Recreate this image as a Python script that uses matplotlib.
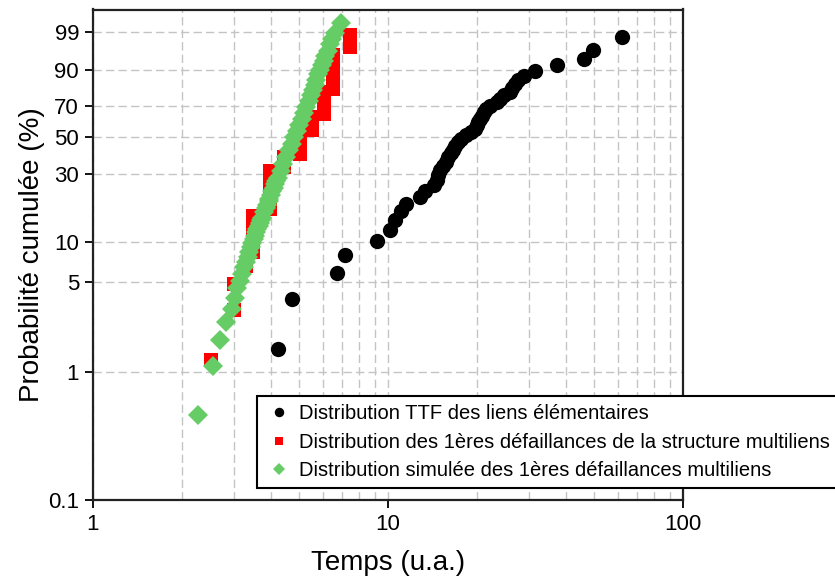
import numpy as np
import matplotlib
matplotlib.use("Agg")
import matplotlib.pyplot as plt
from matplotlib.ticker import FixedLocator, NullLocator, FixedFormatter

plt.rcParams['font.family'] = ['Liberation Sans', 'DejaVu Sans']

# TTF des liens elementaires (temps, probabilite cumulee %)
ttf_temps = [4.24, 4.73, 6.72, 7.15, 9.18, 10.16, 10.56, 11.07, 11.51, 12.84,
             13.35, 14.32, 14.66, 14.77, 15.01, 15.36, 15.73, 15.97, 16.35, 16.61,
             16.87, 17.27, 17.68, 18.38, 19.11, 19.72, 20.03, 20.19, 20.50, 20.83,
             21.16, 21.49, 22.17, 23.41, 23.97, 24.73, 25.92, 26.33, 26.95, 27.59,
             28.91, 31.50, 37.41, 46.17, 49.55, 62.13]
ttf_prob = [1.51, 3.66, 5.82, 7.97, 10.13, 12.28, 14.44, 16.59, 18.75, 20.91,
            23.06, 25.22, 27.37, 29.53, 31.68, 33.84, 35.99, 38.15, 40.30, 42.46,
            44.61, 46.77, 48.92, 51.08, 53.23, 55.39, 57.54, 59.70, 61.85, 64.01,
            66.16, 68.32, 70.47, 72.63, 74.78, 76.94, 79.09, 81.25, 83.41, 85.56,
            87.72, 89.87, 92.03, 94.18, 96.34, 98.49]

# 1eres defaillances de la structure multiliens (mesure)
multi_temps = [2.51, 3.01, 3.01, 3.30, 3.49, 3.49, 3.49, 3.49, 3.49,
               3.98, 3.98, 3.98, 3.98, 3.98, 3.98, 3.98, 3.98, 3.98,
               4.44, 4.44, 4.44, 4.44,
               5.03, 5.03, 5.03, 5.03, 5.03, 5.03, 5.03, 5.03,
               5.53, 5.53, 5.53, 5.53, 5.53, 5.53,
               6.07, 6.07, 6.07, 6.07, 6.07, 6.07, 6.07, 6.07, 6.07,
               6.51, 6.51, 6.51, 6.51, 6.51, 6.51, 6.51, 6.51, 6.51,
               7.43, 7.43]
multi_prob = [1.24, 3.01, 4.79, 6.56, 8.33, 10.11, 11.88, 13.65, 15.43,
              17.20, 18.97, 20.74, 22.52, 24.29, 26.06, 27.84, 29.61, 31.38,
              33.16, 34.93, 36.70, 38.48,
              40.25, 42.02, 43.79, 45.57, 47.34, 49.11, 50.89, 52.66,
              54.43, 56.21, 57.98, 59.75, 61.52, 63.30,
              65.07, 66.84, 68.62, 70.39, 72.16, 73.94, 75.71, 77.48, 79.26,
              81.03, 82.80, 84.57, 86.35, 88.12, 89.89, 91.67, 93.44, 95.21,
              96.99, 98.76]

# distribution simulee
sim_temps = [2.264, 2.552, 2.695, 2.830, 2.959, 3.029, 3.089, 3.150, 3.199, 3.250,
             3.299, 3.345, 3.390, 3.429, 3.467, 3.505, 3.538, 3.574, 3.605, 3.641,
             3.676, 3.707, 3.740, 3.798, 3.855, 3.882, 3.935, 3.962, 4.009, 4.056,
             4.104, 4.146, 4.188, 4.231, 4.328, 4.420, 4.511, 4.614, 4.712, 4.808,
             4.903, 4.996, 5.091, 5.187, 5.285, 5.389, 5.478, 5.573, 5.647, 5.723,
             5.813, 5.886, 5.983, 6.058, 6.139, 6.245, 6.378, 6.468, 6.607, 6.907]
sim_prob = [0.46, 1.12, 1.78, 2.44, 3.10, 3.76, 4.43, 5.09, 5.75, 6.41,
            7.07, 7.73, 8.39, 9.05, 9.71, 10.37, 11.03, 11.69, 12.35, 13.01,
            13.67, 14.33, 14.99, 16.31, 17.64, 18.30, 19.62, 20.28, 21.60, 22.92,
            24.24, 25.56, 26.88, 28.20, 31.51, 34.81, 38.11, 42.07, 46.04, 50.00,
            53.96, 57.93, 61.89, 65.85, 69.82, 73.78, 77.08, 80.38, 83.03, 85.67,
            88.31, 90.29, 92.27, 93.59, 94.91, 96.24, 97.56, 98.22, 98.88, 99.54]

labels = ['Distribution TTF des liens élémentaires',
          'Distribution des 1ères défaillances de la structure multiliens',
          'Distribution simulée des 1ères défaillances multiliens']
yticks = [0.1, 1, 5, 10, 30, 50, 70, 90, 99]


def weib(p):
    p = np.clip(np.asarray(p, dtype=float) / 100.0, 1e-12, 1 - 1e-12)
    return np.log(-np.log(1 - p))


def weib_inv(w):
    return 100.0 * (1 - np.exp(-np.exp(np.asarray(w, dtype=float))))


fig = plt.figure(figsize=(8.35, 5.79), dpi=100)
ax = fig.add_axes([93 / 835, 1 - 500 / 579, 590 / 835, 490.5 / 579])

ax.set_xscale('log')
ax.set_yscale('function', functions=(weib, weib_inv))
ax.set_xlim(1, 100)
ax.set_ylim(0.1, 99.9)

ax.plot(ttf_temps, ttf_prob, 'o', color='black', ms=11, mew=0, label=labels[0], zorder=3)
ax.plot(multi_temps, multi_prob, 's', color='#ff0000', ms=9.8, mew=0, label=labels[1], zorder=3)
ax.plot(sim_temps, sim_prob, 'D', color='#66cc66', ms=9.8, mew=0, label=labels[2], zorder=4)

ax.yaxis.set_major_locator(FixedLocator(yticks))
ax.yaxis.set_major_formatter(FixedFormatter(['0.1', '1', '5', '10', '30', '50', '70', '90', '99']))
ax.yaxis.set_minor_locator(NullLocator())
ax.xaxis.set_major_locator(FixedLocator([1, 10, 100]))
ax.xaxis.set_major_formatter(FixedFormatter(['1', '10', '100']))
ax.xaxis.set_minor_locator(FixedLocator([2, 3, 4, 5, 6, 7, 8, 9, 20, 30, 40, 50, 60, 70, 80, 90]))

ax.tick_params(which='major', direction='out', length=6, width=1.3, labelsize=16, pad=4)
ax.tick_params(which='minor', length=0)
ax.grid(True, which='major', color='#c4c4c4', linestyle=(0, (6, 3)), linewidth=1.0)
ax.grid(True, which='minor', axis='x', color='#c4c4c4', linestyle=(0, (6, 3)), linewidth=1.0)
ax.set_axisbelow(True)
for s in ax.spines.values():
    s.set_linewidth(1.6)
    s.set_color('#222222')

ax.set_xlabel('Temps (u.a.)', fontsize=20, labelpad=11)
ax.set_ylabel('Probabilité cumulée (%)', fontsize=20, labelpad=2)

leg = ax.legend(loc='upper left', bbox_to_anchor=(257 / 835, 1 - 396 / 579),
                bbox_transform=fig.transFigure, fontsize=14.5, markerscale=0.62,
                frameon=True, fancybox=False, borderaxespad=0, borderpad=0.4,
                labelspacing=0.48, handlelength=1.4, handletextpad=0.3)
leg.get_frame().set_edgecolor('black')
leg.get_frame().set_linewidth(1.5)
leg.get_frame().set_alpha(1)

fig.savefig('out.png', dpi=100)
